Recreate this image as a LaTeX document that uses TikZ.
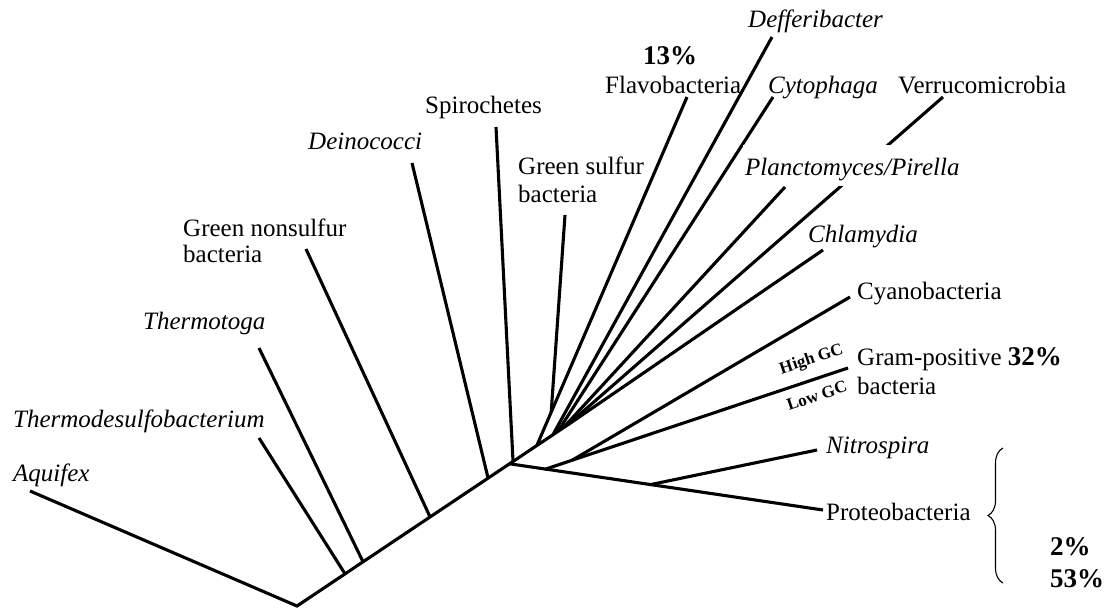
\documentclass[tikz,border=0pt]{standalone}
\usepackage{fontspec}
\setmainfont{Liberation Serif}
\usetikzlibrary{decorations.pathreplacing}
\begin{document}
\begin{tikzpicture}[x=1pt,y=-1pt,
  branch/.style={line width=3.1pt, line cap=butt, line join=miter},
  lbl/.style={font=\fontsize{25}{28}\selectfont, inner sep=0pt, anchor=base west},
  ilbl/.style={font=\fontsize{25}{28}\selectfont\itshape, inner sep=0pt, anchor=base west},
  pct/.style={font=\fontsize{27}{30}\selectfont\bfseries, inner sep=0pt, anchor=base west},
  gc/.style={font=\fontsize{17}{19}\selectfont\bfseries, sloped, inner sep=0pt},
  bracestyle/.style={line width=1.1pt, decorate, decoration={brace, amplitude=15pt}}]
\useasboundingbox (0,0) rectangle (1110,609);

% coordinates
\coordinate (R) at (297,606);
\coordinate (T) at (572,422);
\coordinate (N0) at (513,461);
\coordinate (aqE) at (30,491);
\coordinate (jTd) at (345,573.8);
\coordinate (tdE) at (259,438);
\coordinate (jTt) at (363,561.7);
\coordinate (ttE) at (259,348);
\coordinate (jGn) at (430,516.8);
\coordinate (gnE) at (306,249);
\coordinate (jDe) at (488,477.8);
\coordinate (deE) at (412,163);
\coordinate (spE) at (496,127);
\coordinate (jFl) at (537,445.1);
\coordinate (flE) at (687,97);
\coordinate (jGs) at (551.2,412);
\coordinate (gsE) at (565,215);
\coordinate (jDf) at (553,434.6);
\coordinate (dfE) at (772,37);
\coordinate (jCy) at (558,431.2);
\coordinate (cyE) at (773,97);
\coordinate (jPl) at (564,427);
\coordinate (plE) at (785,187);
\coordinate (jVe) at (568,424.6);
\coordinate (veE) at (943,97);
\coordinate (chE) at (823,250);
\coordinate (jPr) at (509,463.7);
\coordinate (prE) at (823,510);
\coordinate (jGr) at (545,469.3);
\coordinate (grE) at (848,368);
\coordinate (jCn) at (572,460.3);
\coordinate (cnE) at (850,297);
\coordinate (jNi) at (650,484.7);
\coordinate (niE) at (817,450);

% tree
\draw[branch] (aqE) -- (R) -- (T);
\draw[branch] (jTd) -- (tdE);
\draw[branch] (jTt) -- (ttE);
\draw[branch] (jGn) -- (gnE);
\draw[branch] (jDe) -- (deE);
\draw[branch] (N0) -- (spE);
\draw[branch] (jFl) -- (flE);
\draw[branch] (jGs) -- (gsE);
\draw[branch] (jDf) -- (dfE);
\draw[branch] (jCy) -- (cyE);
\draw[branch] (jPl) -- (plE);
\draw[branch] (jVe) -- (veE);
\draw[branch] (T) -- (chE);
\draw[branch] (jPr) -- (prE);
\draw[branch] (jGr) -- (grE)
  node[gc, pos=0.9, above=10pt] (hgc) {High GC}
  node[gc, pos=0.88, below=9pt] (lgc) {Low GC};
\draw[branch] (jCn) -- (cnE);
\draw[branch] (jNi) -- (niE);

% labels
\node[ilbl] (aq) at (13,481) {Aquifex};
\node[ilbl] (td) at (13,427) {Thermodesulfobacterium};
\node[ilbl] (tt) at (143,329) {Thermotoga};
\node[lbl] (gn1) at (183,237) {Green nonsulfur};
\node[lbl] (gn2) at (183,263) {bacteria};
\node[ilbl] (de) at (308,150) {Deinococci};
\node[lbl] (sp) at (425,114) {Spirochetes};
\node[lbl] (gs1) at (518,175) {Green sulfur};
\node[lbl] (gs2) at (518,203) {bacteria};
\node[pct] (p13) at (643,65) {13\%};
\node[lbl] (fl) at (605,94) {Flavobacteria};
\node[ilbl] (df) at (748,28) {Defferibacter};
\node[ilbl] (cy) at (768,94) {Cytophaga};
\node[lbl] (ve) at (898,94) {Verrucomicrobia};
\node[ilbl, fill=white, text height=31pt, text depth=10pt, inner xsep=2pt] (pl) at (743,176) {Planctomyces/Pirella};
\node[ilbl] (ch) at (808,243) {Chlamydia};
\node[lbl] (cn) at (857,300) {Cyanobacteria};
\node[lbl] (gr1) at (857,365) {Gram-positive {\fontsize{27}{30}\selectfont\bfseries 32\%}};
\node[lbl] (gr2) at (857,394) {bacteria};
\node[ilbl] (ni) at (826,453) {Nitrospira};
\node[lbl] (pr) at (826,520) {Proteobacteria};
\node[pct] (p2) at (1050,555) {2\%};
\node[pct] (p53) at (1050,587) {53\%};

% brace
\coordinate (bB) at (1003,583);
\coordinate (bT) at (1003,448);
\draw[bracestyle] (bB) -- (bT);
\end{tikzpicture}
\end{document}
